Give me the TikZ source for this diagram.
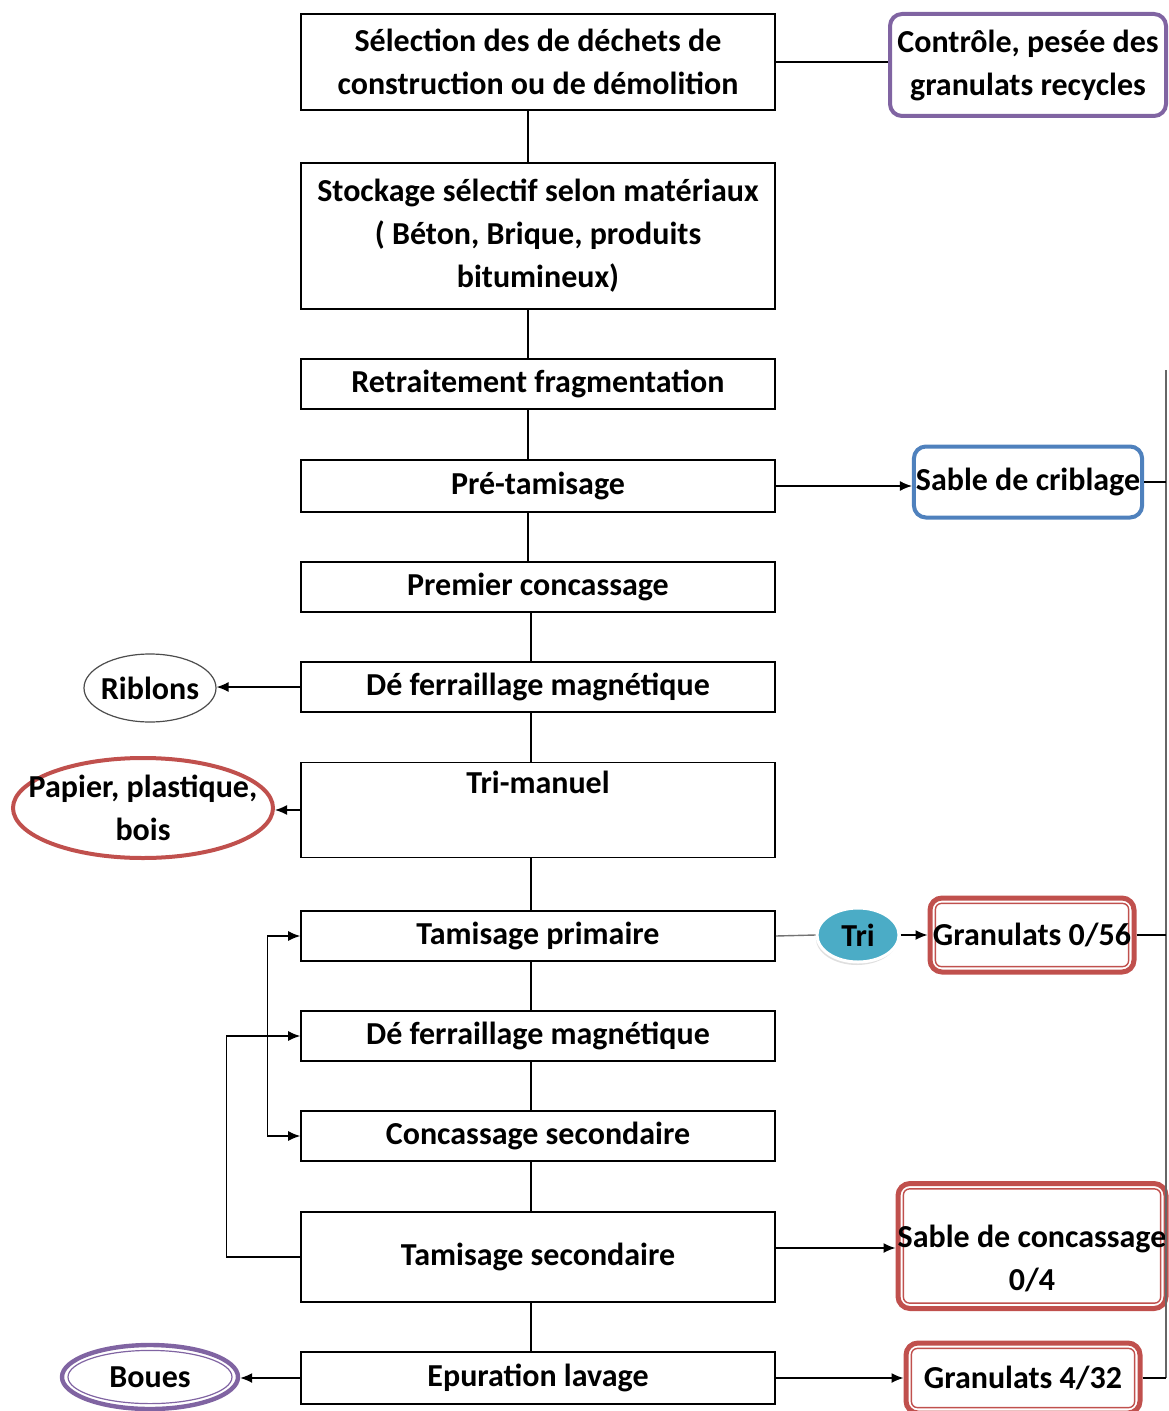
\documentclass[tikz,border=0pt]{standalone}
\usepackage{fontspec}
\setmainfont{Carlito}
\usetikzlibrary{shapes.geometric,shadows,arrows.meta}
\definecolor{rouge}{HTML}{C0504D}
\definecolor{violet}{HTML}{8064A2}
\definecolor{bleu}{HTML}{4F81BD}
\definecolor{turquoise}{HTML}{4BACC6}
\tikzset{
  texte/.style={font=\fontsize{16}{21.5}\selectfont\bfseries},
  etape/.style={texte, draw, line width=0.8pt, minimum width=237pt, inner sep=1pt, align=center},
  produit/.style={texte, draw, rounded corners=6pt, line width=2pt, inner sep=1pt, align=center},
  rougedouble/.style={produit, draw=rouge, line width=2.5pt,
    path picture={\draw[rouge, line width=0.7pt, rounded corners=3pt]
      ([shift={(2.7pt,-2.7pt)}]path picture bounding box.north west) rectangle
      ([shift={(-2.7pt,2.7pt)}]path picture bounding box.south east);}},
  dechet/.style={ellipse, draw, inner sep=0pt},
  fleche/.style={-{Latex[length=6pt,width=5pt]}, line width=0.7pt},
  ligne/.style={line width=0.7pt}
}
\begin{document}
\begin{tikzpicture}[x=0.5pt,y=-0.5pt]
\useasboundingbox (0,0) rectangle (1168,1411);

\node[etape, minimum height=48pt]   (sel)     at (538,62)   {Sélection des de déchets de\\construction ou de démolition};
\node[etape, minimum height=73pt]   (stock)   at (538,236)  {Stockage sélectif selon matériaux\\( Béton, Brique, produits\\bitumineux)};
\node[etape, minimum height=25pt]   (retr)    at (538,384)  {Retraitement fragmentation};
\node[etape, minimum height=26pt]   (pretam)  at (538,486)  {Pré-tamisage};
\node[etape, minimum height=25pt]   (prem)    at (538,587)  {Premier concassage};
\node[etape, minimum height=25pt]   (defer1)  at (538,687)  {Dé ferraillage magnétique};
\node[etape, minimum height=47.5pt] (trim)    at (538,810)  {Tri-manuel\\\strut};
\node[etape, minimum height=25pt]   (tamp)    at (538,936)  {Tamisage primaire};
\node[etape, minimum height=25pt]   (defer2)  at (538,1036) {Dé ferraillage magnétique};
\node[etape, minimum height=25pt]   (concsec) at (538,1136) {Concassage secondaire};
\node[etape, minimum height=45pt]   (tamsec)  at (538,1257) {Tamisage secondaire};
\node[etape, minimum height=26pt]   (epur)    at (538,1378) {Epuration lavage};

\node[produit, draw=violet, minimum width=138pt, minimum height=51pt] (ctrl) at (1028,65) {Contrôle, pesée des\\granulats recycles};
\node[produit, draw=bleu, minimum width=114pt, minimum height=35.5pt] (sable) at (1028,482) {Sable de criblage};
\node[rougedouble, minimum width=102pt, minimum height=37pt] (g056) at (1032,935) {Granulats 0/56};
\node[rougedouble, minimum width=134pt, minimum height=62.5pt,
  label={[texte, align=center, yshift=-6pt]center:Sable de concassage\\0/4}] (sconc) at (1032,1246) {};
\node[rougedouble, minimum width=117pt, minimum height=35pt] (g432) at (1023,1378) {Granulats 4/32};

\node[dechet, draw=white, line width=1.5pt, fill=turquoise, minimum width=41pt, minimum height=27pt,
  drop shadow={shadow xshift=-0.6pt, shadow yshift=-1.5pt, fill=black!25},
  label={[texte]center:Tri}] (tri) at (858,935) {};
\node[dechet, draw=black!70, line width=0.6pt, minimum width=66pt, minimum height=34pt,
  label={[texte]center:Riblons}] (rib) at (150,688) {};
\node[dechet, draw=rouge, line width=2pt, minimum width=130pt, minimum height=50pt,
  label={[texte, align=center]center:Papier, plastique,\\bois}] (pap) at (143,808) {};
\node[dechet, draw=violet, line width=2.2pt, minimum width=88pt, minimum height=32pt,
  path picture={\draw[violet, line width=0.6pt] (path picture bounding box.center) ellipse (41pt and 13.3pt);},
  label={[texte]center:Boues}] (boues) at (150,1377) {};

\foreach \a/\b in {sel/stock, stock/retr, retr/pretam, pretam/prem}
  \draw[ligne] ([xshift=-5pt]\a.south) -- ([xshift=-5pt]\b.north);
\foreach \a/\b in {prem/defer1, defer1/trim, trim/tamp, tamp/defer2, defer2/concsec, concsec/tamsec, tamsec/epur}
  \draw[ligne] ([xshift=-3.5pt]\a.south) -- ([xshift=-3.5pt]\b.north);

\draw[ligne] (sel.east) -- (sel.east -| ctrl.west);
\draw[fleche] (pretam.east) -- (pretam.east -| sable.west);
\draw[ligne, black!55] (tamp.east) -- (tri.west);
\draw[fleche] (tri.east) -- (g056.west);
\draw[fleche] ([yshift=4.5pt]tamsec.east) -- ([yshift=4.5pt]tamsec.east -| sconc.west);
\draw[fleche] (epur.east) -- (g432.west);

\coordinate (droite) at (1166,370);
\draw[ligne, black!60] (droite) -- (g432.east -| droite);
\draw[ligne] (sable.east) -- (sable.east -| droite);
\draw[ligne] (g056.east) -- (g056.east -| droite);
\draw[ligne] (g432.east) -- (g432.east -| droite);

\draw[fleche] (defer1.west) -- (defer1.west -| rib.east);
\draw[fleche] (trim.west) -- (trim.west -| pap.east);
\draw[fleche] (epur.west) -- (epur.west -| boues.east);

\draw[fleche, {Latex[length=6pt,width=5pt]}-{Latex[length=6pt,width=5pt]}] (tamp.west) -- ++(-16.5pt,0) |- (concsec.west);
\draw[fleche] (tamsec.west) -- ++(-37pt,0) |- (defer2.west);
\end{tikzpicture}
\end{document}
